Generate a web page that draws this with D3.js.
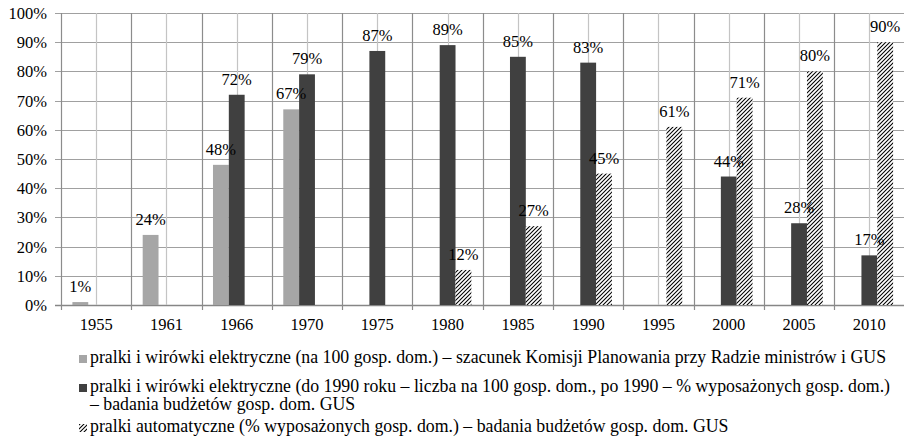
<!DOCTYPE html>
<html>
<head>
<meta charset="utf-8">
<script src="https://cdn.jsdelivr.net/npm/d3@7"></script>
<style>
  body { margin: 0; background: #fff; }
  svg text { font-family: "Liberation Serif", "Times New Roman", serif; fill: #000; }
</style>
</head>
<body>
<svg id="chart"></svg>
<script>
var w = 904; // Width of the SVG element
var h = 439; // Height of the SVG element

// data (percent)
var years = ["1955", "1961", "1966", "1970", "1975", "1980", "1985", "1990", "1995", "2000", "2005", "2010"];
var estimated = [1, 24, 48, 67, null, null, null, null, null, null, null, null];
var electric = [null, null, 72, 79, 87, 89, 85, 83, null, 44, 28, 17];
var automatic = [null, null, null, null, null, 12, 27, 45, 61, 71, 80, 90];
var yTicks = [0, 10, 20, 30, 40, 50, 60, 70, 80, 90, 100];

var legendLines = [
  "pralki i wirówki elektryczne (na 100 gosp. dom.) – szacunek Komisji Planowania przy Radzie ministrów i GUS",
  "pralki i wirówki elektryczne (do 1990 roku – liczba na 100 gosp. dom., po 1990 – % wyposażonych gosp. dom.)",
  "– badania budżetów gosp. dom. GUS",
  "pralki automatyczne (% wyposażonych gosp. dom.) – badania budżetów gosp. dom. GUS"
];

var margin = { top: 13, right: 0, bottom: 134, left: 61 };
var fontSize = "16.5px";

var svg = d3.select("#chart")
  .attr("width", w)
  .attr("height", h);

// hatch pattern for the automatic series
var defs = svg.append("defs");
var pat = defs.append("pattern")
  .attr("id", "hatch")
  .attr("patternUnits", "userSpaceOnUse")
  .attr("width", 4)
  .attr("height", 4);
pat.append("rect").attr("width", 4).attr("height", 4).attr("fill", "#fff");
pat.append("path")
  .attr("d", "M0,4 L4,0 M-1,1 L1,-1 M3,5 L5,3")
  .attr("stroke", "#000")
  .attr("stroke-width", 1.05);

var series = [
  { key: "a", values: estimated, fill: "#a6a6a6" },
  { key: "b", values: electric, fill: "#404040" },
  { key: "c", values: automatic, fill: "url(#hatch)" }
];

var x = d3.scaleBand()
  .domain(years)
  .range([margin.left, w + 0.5])
  .padding(0);

var xs = d3.scaleBand()
  .domain(series.map(function(s) { return s.key; }))
  .range([0, x.bandwidth()])
  .paddingInner(0)
  .paddingOuter(0.72);

var y = d3.scaleLinear()
  .domain([0, 100])
  .range([h - margin.bottom, margin.top]);

// horizontal grid
svg.append("g")
  .selectAll("line")
  .data(yTicks)
  .enter()
  .append("line")
  .attr("x1", margin.left - 6)
  .attr("x2", w)
  .attr("y1", function(d) { return Math.round(y(d)) + 0.5; })
  .attr("y2", function(d) { return Math.round(y(d)) + 0.5; })
  .attr("stroke", function(d) { return d === 0 ? "#868686" : "#a0a0a0"; })
  .attr("stroke-width", function(d) { return d === 0 ? 1.5 : 1.2; });

// vertical grid: light lines at the category centres, darker at the boundaries
svg.append("g")
  .selectAll("line")
  .data(years)
  .enter()
  .append("line")
  .attr("x1", function(d) { return Math.round(x(d) + x.bandwidth() / 2) + 0.5; })
  .attr("x2", function(d) { return Math.round(x(d) + x.bandwidth() / 2) + 0.5; })
  .attr("y1", y(100))
  .attr("y2", y(0))
  .attr("stroke", "#c4c4c4")
  .attr("stroke-width", 1.2);

svg.append("g")
  .selectAll("line")
  .data(years.slice(1))
  .enter()
  .append("line")
  .attr("x1", function(d) { return Math.round(x(d)) + 0.5; })
  .attr("x2", function(d) { return Math.round(x(d)) + 0.5; })
  .attr("y1", y(100))
  .attr("y2", y(0) + 5)
  .attr("stroke", "#8c8c8c")
  .attr("stroke-width", 1.2);

// left axis line
svg.append("line")
  .attr("x1", margin.left + 0.5)
  .attr("x2", margin.left + 0.5)
  .attr("y1", y(100))
  .attr("y2", y(0) + 5)
  .attr("stroke", "#8c8c8c")
  .attr("stroke-width", 1.2);

// y axis labels
var yAxis = svg.append("g")
  .attr("transform", "translate(" + (margin.left - 14) + ",0)")
  .call(d3.axisLeft(y).tickValues(yTicks).tickSize(0).tickFormat(function(d) { return d + "%"; }));
yAxis.select(".domain").remove();
yAxis.selectAll("text")
  .attr("x", 0)
  .attr("dy", "0.33em")
  .style("font-size", fontSize)
  .style("font-family", "'Liberation Serif', serif");

// x axis labels
var xAxis = svg.append("g")
  .attr("transform", "translate(0," + y(0) + ")")
  .call(d3.axisBottom(x).tickSize(0));
xAxis.select(".domain").remove();
xAxis.selectAll("text")
  .attr("y", 25)
  .attr("dy", 0)
  .style("font-size", fontSize)
  .style("font-family", "'Liberation Serif', serif");

// bars
series.forEach(function(s) {
  var rows = years.map(function(yr, i) { return [yr, s.values[i]]; })
    .filter(function(d) { return d[1] !== null; });

  svg.append("g")
    .selectAll("rect")
    .data(rows)
    .enter()
    .append("rect")
    .attr("x", function(d) { return x(d[0]) + xs(s.key); })
    .attr("y", function(d) { return y(d[1]); })
    .attr("width", xs.bandwidth())
    .attr("height", function(d) { return y(0) - y(d[1]); })
    .attr("fill", s.fill);
});

// value labels on top of the bars
series.forEach(function(s) {
  var rows = years.map(function(yr, i) { return [yr, s.values[i]]; })
    .filter(function(d) { return d[1] !== null; });

  svg.append("g")
    .selectAll("text")
    .data(rows)
    .enter()
    .append("text")
    .attr("x", function(d) { return x(d[0]) + xs(s.key) + xs.bandwidth() / 2; })
    .attr("y", function(d) { return y(d[1]) - 10; })
    .attr("text-anchor", "middle")
    .style("font-size", fontSize)
    .text(function(d) { return d[1] + "%"; });
});

// legend
var legendY = [363, 392, 410, 432];
var legendFill = ["#a6a6a6", "#404040", null, "url(#hatch)"];
var lg = svg.append("g");
legendLines.forEach(function(t, i) {
  if (legendFill[i]) {
    lg.append("rect")
      .attr("x", 79)
      .attr("y", legendY[i] - 8)
      .attr("width", 8)
      .attr("height", 8)
      .attr("fill", legendFill[i]);
  }
  lg.append("text")
    .attr("x", 90)
    .attr("y", legendY[i])
    .style("font-size", "17.8px")
    .text(t);
});
</script>
</body>
</html>
